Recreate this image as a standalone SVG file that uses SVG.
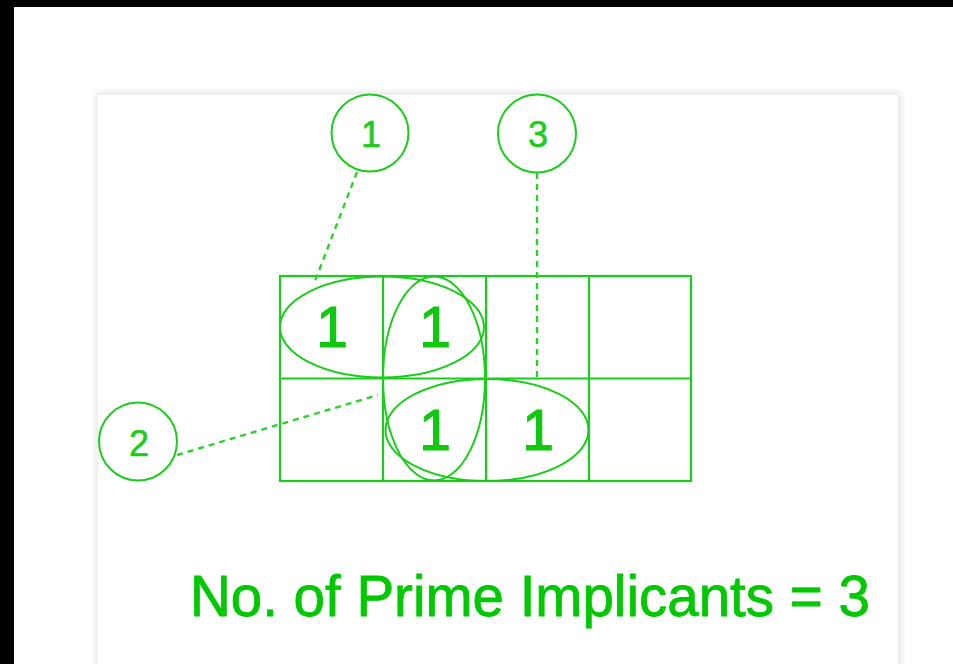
<svg xmlns="http://www.w3.org/2000/svg" width="953" height="664" viewBox="0 0 953 664">
  <style>
    .ln { fill: none; stroke: #1ccc1c; stroke-width: 2.2; }
    .ov { fill: none; stroke: #1ccc1c; stroke-width: 2; }
    .dash { fill: none; stroke: #2dd02d; stroke-width: 2.4; stroke-dasharray: 6 5; }
    .cell { font-family: "Liberation Sans", Arial, sans-serif; font-size: 57px; fill: #11c811; stroke: #11c811; stroke-width: 1.2; text-anchor: middle; }
    .tag { font-family: "Liberation Sans", Arial, sans-serif; font-size: 36px; fill: #1ccc1c; stroke: #1ccc1c; stroke-width: 0.6; text-anchor: middle; }
    .cap { font-family: "Liberation Sans", Arial, sans-serif; font-size: 56.5px; fill: #00c800; stroke: #00c800; stroke-width: 0.8; }
  </style>
  <defs>
    <filter id="soft" x="-5%" y="-5%" width="110%" height="110%">
      <feGaussianBlur stdDeviation="3"/>
    </filter>
  </defs>

  <!-- page frame -->
  <rect x="0" y="0" width="953" height="664" fill="#000"/>
  <rect x="14" y="7" width="939" height="657" fill="#fff"/>

  <!-- card with faint shadow -->
  <rect x="96" y="92" width="805" height="590" fill="#e6e6e6" filter="url(#soft)"/>
  <rect x="98" y="95" width="800" height="580" fill="#fff"/>

  <!-- K-map grid -->
  <g id="kmap">
    <rect class="ln" x="280" y="276" width="411" height="205"/>
    <line class="ln" x1="280" y1="378.5" x2="691" y2="378.5"/>
    <line class="ln" x1="383" y1="276" x2="383" y2="481"/>
    <line class="ln" x1="486" y1="276" x2="486" y2="481"/>
    <line class="ln" x1="589" y1="276" x2="589" y2="481"/>
    <text class="cell" x="332" y="347">1</text>
    <text class="cell" x="435" y="347">1</text>
    <text class="cell" x="435" y="450">1</text>
    <text class="cell" x="538" y="450">1</text>
  </g>

  <!-- prime implicant groupings -->
  <g id="group1">
    <ellipse class="ov" cx="382" cy="327" rx="102" ry="50.5"/>
  </g>
  <g id="group2">
    <ellipse class="ov" cx="434" cy="378.5" rx="51" ry="102"/>
  </g>
  <g id="group3">
    <ellipse class="ov" cx="487" cy="430" rx="101.5" ry="51"/>
  </g>

  <!-- group labels -->
  <g id="label1">
    <circle class="ov" cx="370" cy="133" r="38.5"/>
    <text class="tag" x="371" y="147">1</text>
  </g>
  <g id="label2">
    <circle class="ov" cx="138" cy="441.5" r="39"/>
    <text class="tag" x="139" y="456">2</text>
  </g>
  <g id="label3">
    <circle class="ov" cx="537" cy="133.5" r="39"/>
    <text class="tag" x="538" y="147">3</text>
  </g>

  <!-- leader lines -->
  <g id="connectors">
    <line class="dash" x1="357" y1="172" x2="315" y2="281"/>
    <line class="dash" x1="177" y1="455" x2="378" y2="395"/>
    <line class="dash" x1="537" y1="173" x2="537" y2="377"/>
  </g>

  <text id="caption" class="cap" x="190" y="616">No. of Prime Implicants = 3</text>
</svg>
